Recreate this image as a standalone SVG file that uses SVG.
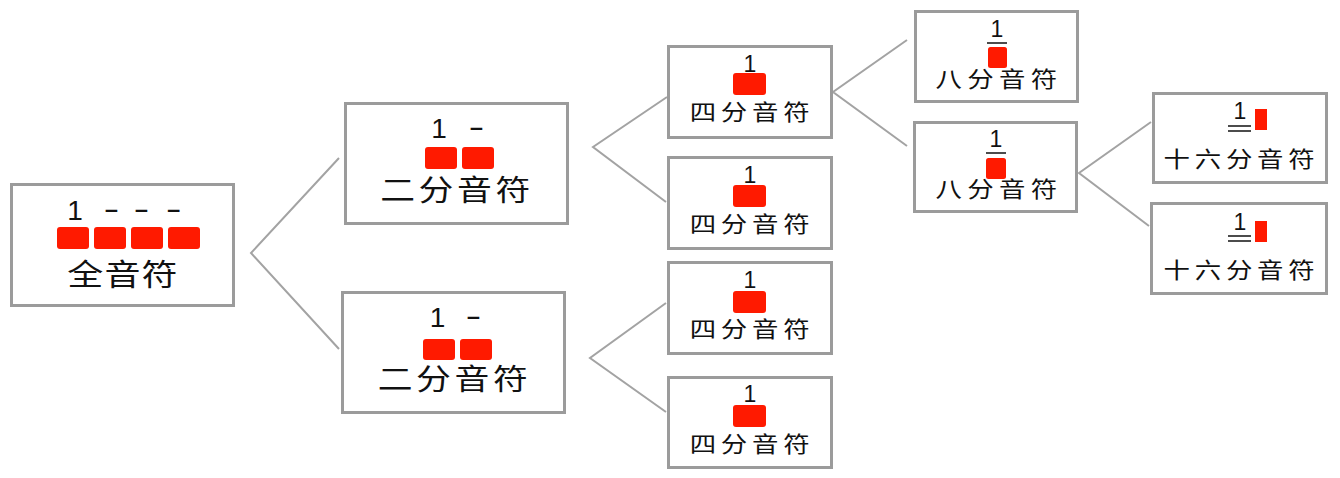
<svg xmlns="http://www.w3.org/2000/svg" width="1340" height="478" viewBox="0 0 1340 478">
<style>
.box{fill:#fff;stroke:#9b9b9b;stroke-width:3}
.con{fill:none;stroke:#a3a3a3;stroke-width:2}
.red{fill:#ff1a00}
.num{font-family:"Liberation Sans",Arial,sans-serif;fill:#111;text-anchor:middle}
.cj{font-family:"Noto Sans CJK SC","Noto Sans CJK JP",sans-serif;fill:#111;text-anchor:middle}
.ln{stroke:#111;stroke-width:1.5}
</style>
<rect width="1340" height="478" fill="#fff"/>
<g id="connectors">
<polyline class="con" points="339,158 251,253 339,349"/>
<polyline class="con" points="667,97 593,147 666,202"/>
<polyline class="con" points="666,303 590,358 666,412"/>
<polyline class="con" points="907,40 833,92 907,146"/>
<polyline class="con" points="1151,122 1079,173 1149,226"/>
</g>
<g id="whole">
<rect class="box" x="11.5" y="184.5" width="222" height="121"/>
<text class="num" font-size="28" x="75" y="220">1</text>
<text class="num" font-size="28" y="218" transform="scale(1.7,1)"><tspan x="65.6">-</tspan><tspan x="83.2">-</tspan><tspan x="102.1">-</tspan></text>
<rect class="red" x="57" y="227" width="32" height="22" rx="3"/>
<rect class="red" x="94" y="227" width="32" height="22" rx="3"/>
<rect class="red" x="131" y="227" width="32" height="22" rx="3"/>
<rect class="red" x="168" y="227" width="32" height="22" rx="3"/>
<text class="cj" font-size="30" transform="translate(123,285) scale(1.2,1)" style="letter-spacing:1px">全音符</text>
</g>
<g id="half1">
<rect class="box" x="345.5" y="103.5" width="222" height="120"/>
<text class="num" font-size="28" x="439" y="138">1</text>
<text class="num" font-size="28" y="136" transform="scale(1.7,1)"><tspan x="280.3">-</tspan></text>
<rect class="red" x="425" y="147" width="32" height="22" rx="3"/>
<rect class="red" x="462" y="147" width="32" height="22" rx="3"/>
<text class="cj" font-size="29" transform="translate(457,201) scale(1.2,1)" style="letter-spacing:3px">二分音符</text>
</g>
<g id="half2">
<rect class="box" x="342.5" y="292.5" width="222" height="120"/>
<text class="num" font-size="28" x="437.5" y="327">1</text>
<text class="num" font-size="28" y="325" transform="scale(1.7,1)"><tspan x="278.5">-</tspan></text>
<rect class="red" x="423" y="339" width="32" height="21" rx="3"/>
<rect class="red" x="460" y="339" width="32" height="21" rx="3"/>
<text class="cj" font-size="29" transform="translate(454.5,390) scale(1.2,1)" style="letter-spacing:3px">二分音符</text>
</g>
<g id="quarter1">
<rect class="box" x="668.5" y="46.5" width="163" height="91"/>
<text class="num" font-size="23" x="750" y="72">1</text>
<rect class="red" x="733" y="73" width="33" height="22" rx="3"/>
<text class="cj" font-size="22" transform="translate(752,120) scale(1.2,1)" style="letter-spacing:4px">四分音符</text>
</g>
<g id="quarter2">
<rect class="box" x="668.5" y="157.5" width="163" height="91"/>
<text class="num" font-size="23" x="750" y="183">1</text>
<rect class="red" x="733" y="185" width="33" height="22" rx="3"/>
<text class="cj" font-size="22" transform="translate(752,232) scale(1.2,1)" style="letter-spacing:4px">四分音符</text>
</g>
<g id="quarter3">
<rect class="box" x="668.5" y="262.5" width="163" height="91"/>
<text class="num" font-size="23" x="750" y="288">1</text>
<rect class="red" x="733" y="291" width="33" height="22" rx="3"/>
<text class="cj" font-size="22" transform="translate(752,337) scale(1.2,1)" style="letter-spacing:4px">四分音符</text>
</g>
<g id="quarter4">
<rect class="box" x="668.5" y="377.5" width="163" height="90"/>
<text class="num" font-size="23" x="750" y="402">1</text>
<rect class="red" x="733" y="405" width="33" height="22" rx="3"/>
<text class="cj" font-size="22" transform="translate(752,452) scale(1.2,1)" style="letter-spacing:4px">四分音符</text>
</g>
<g id="eighth1">
<rect class="box" x="915.5" y="11.5" width="162" height="90"/>
<text class="num" font-size="23" x="997" y="37">1</text>
<line class="ln" x1="987" y1="43" x2="1007" y2="43"/>
<rect class="red" x="988" y="47" width="19" height="21" rx="2.5"/>
<text class="cj" font-size="22" transform="translate(999,87) scale(1.2,1)" style="letter-spacing:4.5px">八分音符</text>
</g>
<g id="eighth2">
<rect class="box" x="914.5" y="122.5" width="162" height="89"/>
<text class="num" font-size="23" x="996" y="147">1</text>
<line class="ln" x1="986" y1="153" x2="1006" y2="153"/>
<rect class="red" x="986" y="158" width="20" height="21" rx="2.5"/>
<text class="cj" font-size="22" transform="translate(999,197) scale(1.2,1)" style="letter-spacing:4.5px">八分音符</text>
</g>
<g id="sixteenth1">
<rect class="box" x="1153.5" y="93.5" width="173" height="89"/>
<text class="num" font-size="23" x="1240" y="119">1</text>
<line class="ln" x1="1228" y1="126" x2="1251" y2="126"/>
<line class="ln" x1="1228" y1="131" x2="1251" y2="131"/>
<rect class="red" x="1255" y="109" width="12" height="21"/>
<text class="cj" font-size="22" transform="translate(1241.5,167) scale(1.2,1)" style="letter-spacing:4px">十六分音符</text>
</g>
<g id="sixteenth2">
<rect class="box" x="1151.5" y="203.5" width="175" height="90"/>
<text class="num" font-size="23" x="1240" y="230">1</text>
<line class="ln" x1="1228" y1="236" x2="1251" y2="236"/>
<line class="ln" x1="1228" y1="241" x2="1251" y2="241"/>
<rect class="red" x="1255" y="221" width="12" height="21"/>
<text class="cj" font-size="22" transform="translate(1241.5,278) scale(1.2,1)" style="letter-spacing:4px">十六分音符</text>
</g>
</svg>
